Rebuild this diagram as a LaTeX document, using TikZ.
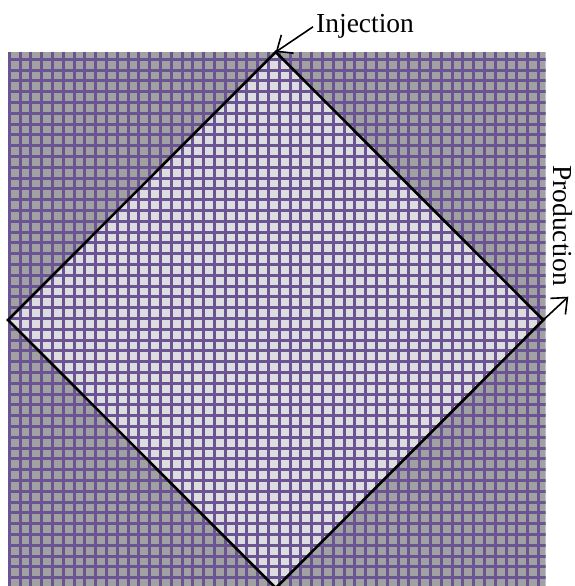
\documentclass[tikz,border=0pt]{standalone}
\usepackage{fontspec}
\setmainfont{Liberation Serif}
\usepackage{xcolor}
\definecolor{cellgray}{RGB}{161,161,161}
\definecolor{celllight}{RGB}{221,221,223}
\definecolor{gridpurple}{RGB}{106,84,148}
\usetikzlibrary{arrows.meta}

\begin{document}
\begin{tikzpicture}[x=1pt,y=-1pt,
    gridline/.style={gridpurple,line width=3.1pt},
    flowarrow/.style={-{Straight Barb[length=13pt,width=22pt]},line width=1.6pt},
    welllabel/.style={inner sep=0pt,font=\fontsize{27.5}{33}\selectfont}]
\useasboundingbox (0,0) rectangle (574,586);

% corners of the diamond
\coordinate (top) at (275.7,52);
\coordinate (left) at (8,320);
\coordinate (right) at (543.3,320);
\coordinate (bottom) at (275.7,588);

% mesh
\begin{scope}
\clip (8,51.7) rectangle (545.7,586);
\fill[cellgray] (8,51.7) rectangle (545.7,586);
\fill[celllight] (top) -- (right) -- (bottom) -- (left) -- cycle;
\foreach \i in {0,...,49} {
  \draw[gridline] (9.3+\i*10.8,51.7) -- (9.3+\i*10.8,586);
}
\foreach \j in {0,...,48} {
  \draw[gridline] (8,59.3+\j*10.8) -- (545.7,59.3+\j*10.8);
}
\end{scope}

\draw[line width=2.6pt,line join=miter] (top) -- (right) -- (bottom) -- (left) -- cycle;

% wells
\node[welllabel,anchor=base west] (inj) at (316,33) {Injection};
\node[welllabel,rotate=-90,anchor=base west] (prod) at (553,165) {Production};
\coordinate (prodtip) at (568.3,296.7);

\draw[flowarrow] (inj.west) ++(-3,0) -- (top);
\draw[flowarrow] (right) -- (prodtip);
\end{tikzpicture}
\end{document}
